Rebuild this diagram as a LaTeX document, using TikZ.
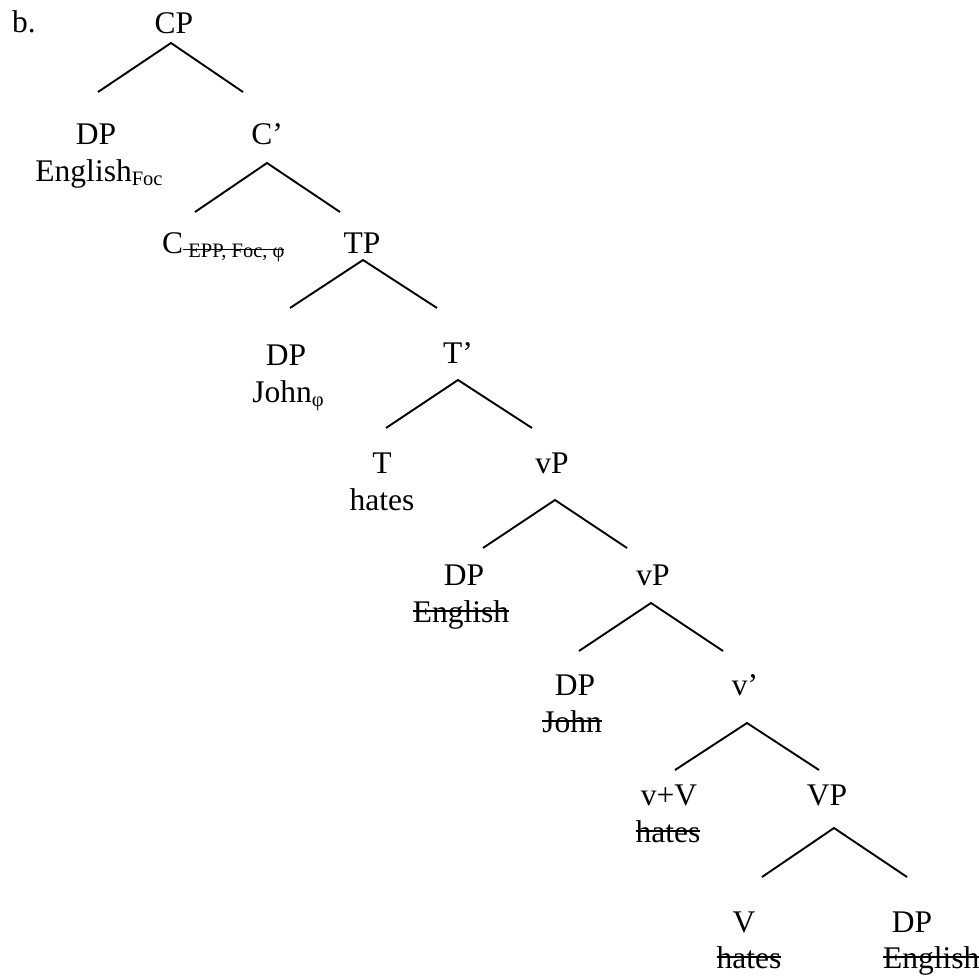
\documentclass[tikz,border=0pt]{standalone}
\usepackage{fontspec}
\setmainfont{Liberation Serif}
\newcommand\subsz{\fontsize{20.5}{22}\selectfont}
\newcommand\strikeword[2][1.6pt]{\setbox0\hbox{#2}\rlap{\rule[0.32em]{\wd0}{#1}}\box0}
\newcommand\lowsub[1]{\raisebox{-4pt}{\subsz #1}}
\begin{document}
\begin{tikzpicture}[x=1pt,y=-1pt,
  lbl/.style={font=\fontsize{31.5}{37}\selectfont, inner sep=0pt, anchor=base},
  branch/.style={line width=1.9pt, line join=miter}]
\useasboundingbox (0,0) rectangle (979,977);
% labels
\node[lbl, anchor=base west] (ex) at (12,32) {b.};
\node[lbl] (cp) at (174,33) {CP};
\node[lbl] (dp1) at (96,144) {DP};
\node[lbl] (dp1w) at (99,181) {English\lowsub{Foc}};
\node[lbl] (cbar) at (267,144) {C’};
\node[lbl, anchor=base west] (c) at (162,253) {C\lowsub{\strikeword[1.4pt]{ EPP, Foc, φ}}};
\node[lbl] (tp) at (362,253) {TP};
\node[lbl] (dp2) at (286,365) {DP};
\node[lbl] (dp2w) at (288,402) {John\lowsub{φ}};
\node[lbl] (tbar) at (458,363) {T’};
\node[lbl] (t) at (382,473) {T};
\node[lbl] (tw) at (382,510) {hates};
\node[lbl] (vp1) at (552,473) {vP};
\node[lbl] (dp3) at (464,585) {DP};
\node[lbl] (dp3w) at (461,622) {\strikeword{English}};
\node[lbl] (vp2) at (653,585) {vP};
\node[lbl] (dp4) at (575,695) {DP};
\node[lbl] (dp4w) at (572,732) {\strikeword{John}};
\node[lbl] (vbar) at (745,695) {v’};
\node[lbl] (vv) at (669,805) {v+V};
\node[lbl] (vvw) at (668,842) {\strikeword{hates}};
\node[lbl] (bigvp) at (827,805) {VP};
\node[lbl] (v) at (744,932) {V};
\node[lbl] (vw) at (749,968) {\strikeword{hates}};
\node[lbl] (dp5) at (912,932) {DP};
\node[lbl, anchor=base west] (dp5w) at (883,968) {\strikeword{English}};
% branch points
\coordinate (cpA) at (171,43);  \coordinate (cpL) at (98,92);   \coordinate (cpR) at (243,92);
\coordinate (cbA) at (267,163); \coordinate (cbL) at (195,212); \coordinate (cbR) at (340,212);
\coordinate (tpA) at (363,260); \coordinate (tpL) at (290,308); \coordinate (tpR) at (437,308);
\coordinate (tbA) at (458,380); \coordinate (tbL) at (386,428); \coordinate (tbR) at (532,428);
\coordinate (v1A) at (555,500); \coordinate (v1L) at (483,548); \coordinate (v1R) at (627,548);
\coordinate (v2A) at (651,603); \coordinate (v2L) at (579,651); \coordinate (v2R) at (723,651);
\coordinate (vbA) at (747,723); \coordinate (vbL) at (675,770); \coordinate (vbR) at (819,770);
\coordinate (VPA) at (834,828); \coordinate (VPL) at (762,877); \coordinate (VPR) at (907,877);
% branches
\draw[branch] (cpL) -- (cpA) -- (cpR);
\draw[branch] (cbL) -- (cbA) -- (cbR);
\draw[branch] (tpL) -- (tpA) -- (tpR);
\draw[branch] (tbL) -- (tbA) -- (tbR);
\draw[branch] (v1L) -- (v1A) -- (v1R);
\draw[branch] (v2L) -- (v2A) -- (v2R);
\draw[branch] (vbL) -- (vbA) -- (vbR);
\draw[branch] (VPL) -- (VPA) -- (VPR);
\end{tikzpicture}
\end{document}
